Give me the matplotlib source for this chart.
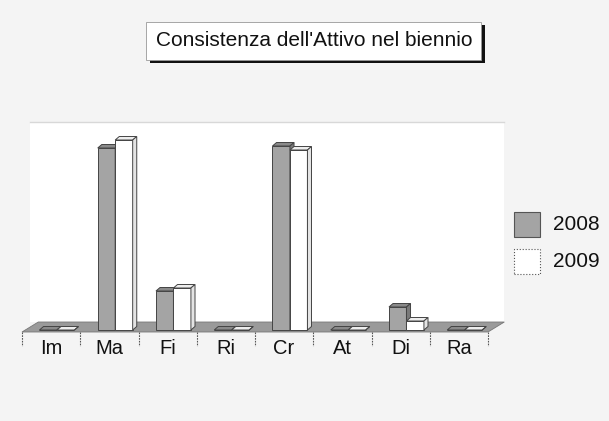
import matplotlib
matplotlib.use("Agg")
import matplotlib.pyplot as plt
from matplotlib.patches import Polygon, Rectangle
import numpy as np

categories = ["Im", "Ma", "Fi", "Ri", "Cr", "At", "Di", "Ra"]
series_names = ["2008", "2009"]
values_2008 = [0, 182, 39, 0, 184, 0, 23, 0]
values_2009 = [0, 190, 42, 0, 180, 0, 9, 0]
title = "Consistenza dell'Attivo nel biennio"

W, H = 609, 421
fig = plt.figure(figsize=(W / 100, H / 100), dpi=100, facecolor="#f4f4f4")

def fx(px):
    return px / W

def fy(py):
    return 1 - py / H

ax = fig.add_axes([fx(22), fy(330), fx(488) - fx(22), fy(122) - fy(330)])
ax.set_xlim(-0.5, len(categories) - 0.5)
ax.set_ylim(0, 208)
ax.axis("off")

# back wall / plot area
dx, dy = 0.28, 8
wall = Polygon([(-0.5 + dx * 0.5, dy), (len(categories) - 0.5 + dx, dy),
                (len(categories) - 0.5 + dx, 208), (-0.5 + dx * 0.5, 208)],
               closed=True, facecolor="white", edgecolor="none", zorder=0, clip_on=False)
ax.add_patch(wall)
ax.plot([-0.5 + dx * 0.5, len(categories) - 0.5 + dx], [208, 208], color="#d8d8d8", lw=1, clip_on=False, zorder=0.5)

# floor
floor = Polygon([(-0.5, -2), (len(categories) - 0.5, -2),
                 (len(categories) - 0.5 + dx, dy), (-0.5 + dx, dy)],
                closed=True, facecolor="#9a9a9a", edgecolor="#777777", lw=0.6, zorder=1, clip_on=False)
ax.add_patch(floor)

bw = 0.3
offsets = [-0.2, 0.1]
ddx, ddy = 0.07, 3.5
colors = [("#a4a4a4", "#8a8a8a", "#7a7a7a"), ("#ffffff", "#eeeeee", "#e4e4e4")]
edge = "#444444"
x = np.arange(len(categories))
for si, vals in enumerate([values_2008, values_2009]):
    front, top, side = colors[si]
    left = x + offsets[si]
    ax.bar(left, vals, width=bw, align="edge", color=front, edgecolor=edge, lw=0.7, zorder=3 + si, clip_on=False)
    for l, v in zip(left, vals):
        ax.add_patch(Polygon([(l, v), (l + bw, v), (l + bw + ddx, v + ddy), (l + ddx, v + ddy)],
                             closed=True, facecolor=top, edgecolor=edge, lw=0.7, zorder=3 + si, clip_on=False))
        ax.add_patch(Polygon([(l + bw, 0), (l + bw + ddx, ddy), (l + bw + ddx, v + ddy), (l + bw, v)],
                             closed=True, facecolor=side, edgecolor=edge, lw=0.7, zorder=3 + si, clip_on=False))

# category separators and labels
for b in np.arange(-0.5, len(categories), 1.0):
    ax.plot([b, b], [-2, -16], color="#555555", lw=0.8, ls=(0, (1.5, 1)), clip_on=False, zorder=2)
for xi, c in zip(x, categories):
    ax.text(xi, -9, c, ha="center", va="top", fontsize=14.5, color="#111111", family="Liberation Sans")

# title box with shadow
fig.patches.append(Rectangle((fx(150), fy(63)), fx(485) - fx(150), fy(25) - fy(63), transform=fig.transFigure,
                             facecolor="#111111", edgecolor="none", zorder=1))
fig.patches.append(Rectangle((fx(146), fy(60)), fx(481) - fx(146), fy(22) - fy(60), transform=fig.transFigure,
                             facecolor="white", edgecolor="#999999", lw=0.6, zorder=2))
fig.text(fx(314), fy(41), title, ha="center", va="center", fontsize=15, family="Liberation Sans", color="#111111", zorder=3)

# legend (drawn manually in figure coordinates)
leg_styles = [dict(facecolor=colors[0][0], edgecolor="#555555", lw=0.8, ls="-"),
              dict(facecolor="white", edgecolor="#555555", lw=0.8, ls=":")]
for i, (name, st) in enumerate(zip(series_names, leg_styles)):
    top_px = 212 + i * 37
    fig.patches.append(Rectangle((fx(514), fy(top_px + 25)), fx(540) - fx(514), fy(top_px) - fy(top_px + 25),
                                 transform=fig.transFigure, zorder=2, **st))
    fig.text(fx(553), fy(top_px + 12.5), name, ha="left", va="center", fontsize=15,
             family="Liberation Sans", color="#111111")

fig.savefig("out.png", dpi=100, facecolor=fig.get_facecolor())
